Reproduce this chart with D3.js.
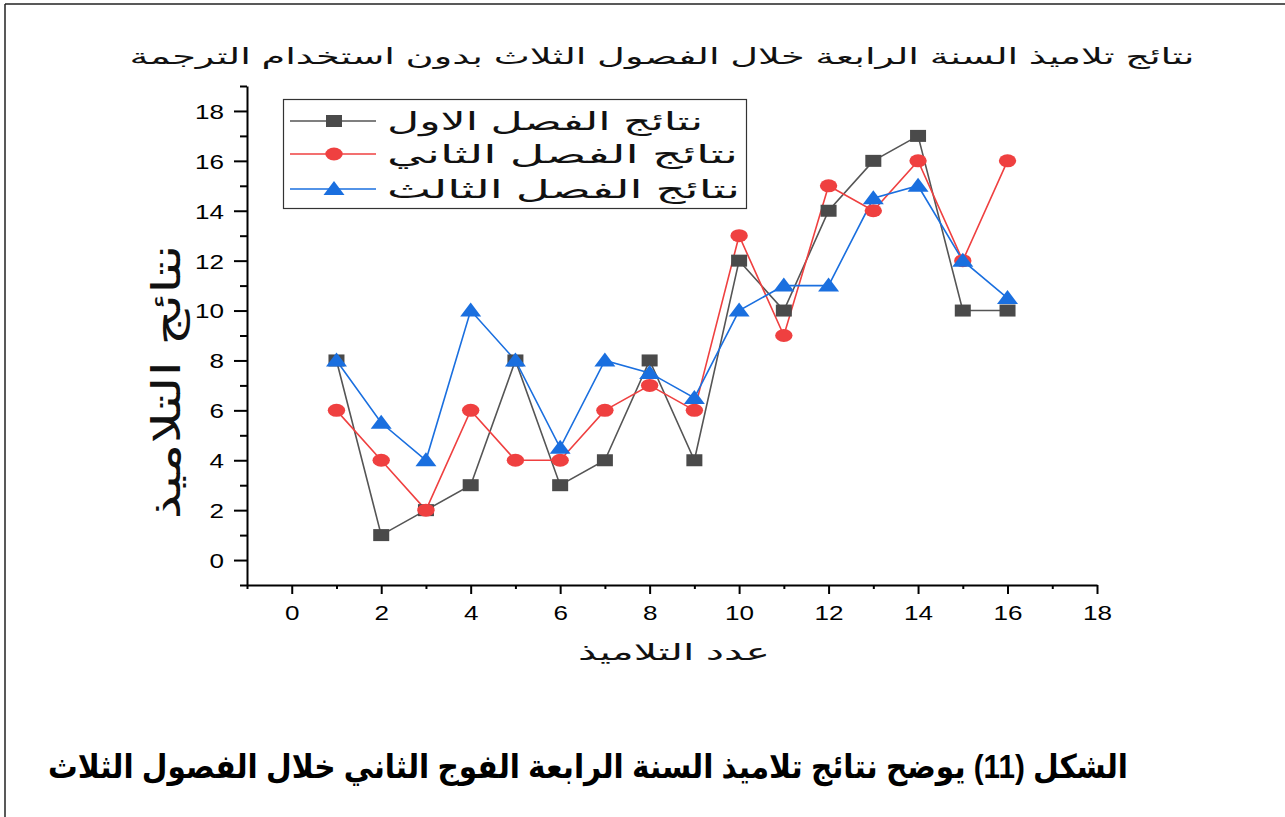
<!DOCTYPE html>
<html><head><meta charset="utf-8">
<script src="https://cdn.jsdelivr.net/npm/d3@7"></script>
<style>body{margin:0;background:#fff}svg{display:block}</style>
</head><body>
<svg id="c" width="1285" height="817"></svg>
<script>
const xValues = [1,2,3,4,5,6,7,8,9,10,11,12,13,14,15,16];
const series1 = [8,1,2,3,8,3,4,8,4,12,10,14,16,17,10,10];
const series2 = [6,4,2,6,4,4,6,7,6,13,9,15,14,16,12,16];
const series3 = [8,5.5,4,10,8,4.5,8,7.5,6.5,10,11,11,14.5,15,12,10.5];
const seriesNames = ["نتائج الفصل الاول","نتائج الفصل الثاني","نتائج الفصل الثالث"];
const xTicks = [0,2,4,6,8,10,12,14,16,18];
const yTicks = [0,2,4,6,8,10,12,14,16,18];
const chartTitle = "نتائج تلاميذ السنة الرابعة خلال الفصول الثلاث بدون استخدام الترجمة";
const xTitle = "عدد التلاميذ";
const yTitle = "نتائج التلاميذ";
const caption = "الشكل (11) يوضح نتائج تلاميذ السنة الرابعة الفوج الثاني خلال الفصول الثلاث";

const svg = d3.select("#c");
const font = "'Liberation Sans', 'DejaVu Sans', Arial, sans-serif";
const x = d3.scaleLinear().domain([-1,18]).range([247,1097]);
const y = d3.scaleLinear().domain([-1,19]).range([585,86]);

// page border (top and left)
svg.append("line").attr("x1",5).attr("x2",1285).attr("y1",4).attr("y2",4).attr("stroke","#222").attr("stroke-width",1.5);
svg.append("line").attr("x1",5).attr("x2",5).attr("y1",4).attr("y2",817).attr("stroke","#222").attr("stroke-width",1.5);

// title
svg.append("text").attr("x",662).attr("y",64).attr("text-anchor","middle")
  .attr("font-family",font).attr("font-size",22).attr("fill","#111")
  .attr("textLength",1065).attr("lengthAdjust","spacingAndGlyphs").text(chartTitle);

// axes
const minorX = d3.range(-1,19,2), minorY = d3.range(-1,20,2);
const gx = svg.append("g").attr("transform","translate(0,585)");
gx.call(d3.axisBottom(x).tickValues(xTicks).tickSize(9).tickSizeOuter(0).tickPadding(6));
gx.append("g").call(d3.axisBottom(x).tickValues(minorX).tickSize(4).tickFormat("").tickSizeOuter(0)).select(".domain").remove();
const gy = svg.append("g").attr("transform","translate(247,0)");
gy.call(d3.axisLeft(y).tickValues(yTicks).tickSize(13).tickSizeOuter(0).tickPadding(10));
gy.append("g").call(d3.axisLeft(y).tickValues(minorY).tickSize(7).tickFormat("").tickSizeOuter(0)).select(".domain").remove();
svg.selectAll(".domain").attr("stroke","#000").attr("stroke-width",2);
svg.selectAll(".tick line").attr("stroke","#000").attr("stroke-width",2);
svg.selectAll(".tick text").attr("font-family",font).attr("font-size",21).attr("fill","#000")
  .attr("textLength",d=>String(d).length*14.5).attr("lengthAdjust","spacingAndGlyphs");
gx.selectAll(".tick text").attr("dy","0.95em");
gy.selectAll(".tick text").attr("dy","0.35em");

// axis titles
svg.append("text").attr("x",674).attr("y",660).attr("text-anchor","middle")
  .attr("font-family",font).attr("font-size",23).attr("fill","#111")
  .attr("textLength",192).attr("lengthAdjust","spacingAndGlyphs").text(xTitle);
svg.append("text").attr("transform","translate(180,382) rotate(-90)").attr("text-anchor","middle")
  .attr("font-family",font).attr("font-size",40).attr("fill","#111")
  .attr("textLength",275).attr("lengthAdjust","spacingAndGlyphs").text(yTitle);

// series
const colors = ["#4a4a4a","#ef4040","#1a6fdf"];
const lineColors = ["#555555","#ef4040","#1a6fdf"];
const data = [series1, series2, series3];
const line = d3.line().x(d=>x(d[0])).y(d=>y(d[1]));
function marker(g, k, cx, cy){
  if(k===0) g.append("rect").attr("x",cx-8).attr("y",cy-6).attr("width",16).attr("height",12).attr("fill",colors[0]);
  else if(k===1) g.append("ellipse").attr("cx",cx).attr("cy",cy).attr("rx",8.7).attr("ry",6.5).attr("fill",colors[1]);
  else g.append("path").attr("d",`M${cx},${cy-8}L${cx+10.5},${cy+6}L${cx-10.5},${cy+6}Z`).attr("fill",colors[2]);
}
data.forEach((vals,k)=>{
  const pts = xValues.map((xv,i)=>[xv, vals[i]]);
  svg.append("path").attr("d",line(pts)).attr("fill","none").attr("stroke",lineColors[k]).attr("stroke-width",1.6);
});
data.forEach((vals,k)=>{
  const g = svg.append("g");
  xValues.forEach((xv,i)=>marker(g,k,x(xv),y(vals[i])));
});

// legend
const lg = svg.append("g");
lg.append("rect").attr("x",283.5).attr("y",99.5).attr("width",463).attr("height",109).attr("fill","#fff").attr("stroke","#333").attr("stroke-width",1.2);
const rowY = [121,154,189];
const legendLen = [316,351,353];
seriesNames.forEach((name,k)=>{
  lg.append("line").attr("x1",290).attr("x2",376).attr("y1",rowY[k]).attr("y2",rowY[k]).attr("stroke",lineColors[k]).attr("stroke-width",1.6);
  marker(lg,k,334,rowY[k]);
  lg.append("text").attr("x",387).attr("y",rowY[k]).attr("dy","0.35em").attr("text-anchor","start")
    .attr("font-family",font).attr("font-size",25).attr("fill","#111")
    .attr("textLength",legendLen[k]).attr("lengthAdjust","spacingAndGlyphs").text(name);
});

// caption
svg.append("text").attr("x",588).attr("y",778).attr("text-anchor","middle")
  .attr("font-family",font).attr("font-weight","bold").attr("font-size",33).attr("fill","#000")
  .attr("textLength",1080).attr("lengthAdjust","spacingAndGlyphs").text(caption);
</script>
</body></html>
